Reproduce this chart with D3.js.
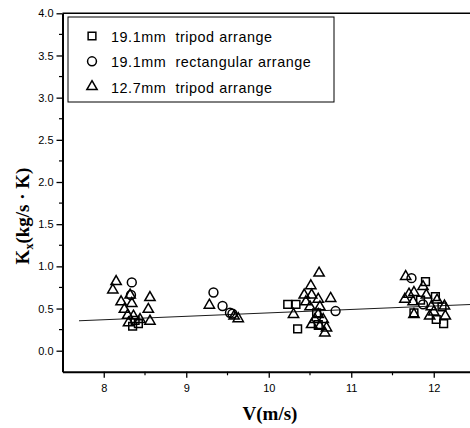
<!DOCTYPE html>
<html>
<head>
<meta charset="utf-8">
<script src="https://cdn.jsdelivr.net/npm/d3@7"></script>
<style>
  body { margin: 0; background: #fff; }
  svg { display: block; }
</style>
</head>
<body>
<svg id="chart" width="470" height="428"></svg>
<script>
// ---- data ----
const seriesNames = ["19.1mm  tripod arrange", "19.1mm  rectangular arrange", "12.7mm  tripod arrange"];
const squareV = [8.35, 8.42, 8.38, 10.23, 10.33, 10.35, 10.60, 10.58, 11.90, 12.02, 11.84, 12.10, 11.76, 12.03, 12.12];
const squareK = [0.29, 0.32, 0.36, 0.55, 0.55, 0.26, 0.31, 0.45, 0.82, 0.64, 0.60, 0.52, 0.45, 0.37, 0.32];
const circleV = [8.34, 8.33, 9.33, 9.44, 9.53, 9.56, 10.81, 11.73, 11.87];
const circleK = [0.81, 0.66, 0.69, 0.53, 0.45, 0.44, 0.47, 0.86, 0.55];
const triV = [8.15, 8.11, 8.21, 8.32, 8.34, 8.25, 8.29, 8.36, 8.44, 8.56, 8.54, 8.56, 8.30,
              9.28, 9.58, 9.63,
              10.61, 10.51, 10.43, 10.52, 10.60, 10.75, 10.50, 10.62, 10.30, 10.60, 10.56, 10.66, 10.52, 10.62, 10.70, 10.68, 10.45,
              11.66, 11.87, 11.76, 11.65, 11.91, 12.04, 11.75, 11.97, 12.13, 11.76, 11.95, 12.14, 12.00, 11.70];
const triK = [0.82, 0.72, 0.58, 0.66, 0.56, 0.49, 0.42, 0.41, 0.37, 0.63, 0.49, 0.35, 0.33,
              0.54, 0.41, 0.38,
              0.92, 0.77, 0.66, 0.66, 0.61, 0.62, 0.52, 0.52, 0.43, 0.43, 0.37, 0.37, 0.31, 0.29, 0.27, 0.21, 0.58,
              0.88, 0.76, 0.69, 0.61, 0.66, 0.60, 0.58, 0.52, 0.53, 0.43, 0.41, 0.41, 0.46, 0.67];
const fitV = [7.7, 12.5];
const fitK = [0.355, 0.55];
const xTicks = [8, 9, 10, 11, 12];
const xMinorTicks = [8.5, 9.5, 10.5, 11.5];
const yTicks = [0.0, 0.5, 1.0, 1.5, 2.0, 2.5, 3.0, 3.5, 4.0];
const yMinorTicks = [0.25, 0.75, 1.25, 1.75, 2.25, 2.75, 3.25, 3.75];

// ---- chart ----
const svg = d3.select("#chart");
const x = d3.scaleLinear().domain([7.5, 12.5]).range([62.5, 475]);
const y = d3.scaleLinear().domain([-0.25, 4.0]).range([371.8, 13.3]);

const tickFont = "'Liberation Sans', Arial, sans-serif";
const titleFont = "'Liberation Serif', 'Times New Roman', serif";

const gx = svg.append("g").attr("transform", `translate(0,${y(-0.25)})`)
  .call(d3.axisBottom(x).tickValues(xTicks).tickFormat(d3.format("d")).tickSize(6).tickPadding(6).tickSizeOuter(0));
gx.selectAll(".tick line").attr("stroke-width", 1.3);
gx.selectAll("text").attr("font-family", tickFont).attr("font-size", 11).attr("fill", "#000");
gx.select(".domain").attr("stroke-width", 2);
gx.selectAll(".minor").data(xMinorTicks).enter().append("line")
  .attr("x1", d => x(d)).attr("x2", d => x(d)).attr("y1", 0).attr("y2", 3.5)
  .attr("stroke", "#000").attr("stroke-width", 1.2);

const gy = svg.append("g").attr("transform", `translate(${x(7.5)},0)`)
  .call(d3.axisLeft(y).tickValues(yTicks).tickFormat(d3.format(".1f")).tickSize(6).tickPadding(3).tickSizeOuter(0));
gy.selectAll(".tick line").attr("stroke-width", 1.3);
gy.selectAll("text").attr("font-family", tickFont).attr("font-size", 11).attr("fill", "#000");
gy.select(".domain").attr("stroke-width", 2);
gy.selectAll(".minor").data(yMinorTicks).enter().append("line")
  .attr("x1", 0).attr("x2", -3.5).attr("y1", d => y(d)).attr("y2", d => y(d))
  .attr("stroke", "#000").attr("stroke-width", 1.2);

// top frame line
svg.append("line").attr("x1", x(7.5)).attr("x2", 470).attr("y1", y(4.0)).attr("y2", y(4.0))
  .attr("stroke", "#000").attr("stroke-width", 1.5);

// fit line
const fitData = fitV.map((v, i) => [v, fitK[i]]);
svg.append("path").datum(fitData)
  .attr("d", d3.line().x(d => x(d[0])).y(d => y(d[1])))
  .attr("fill", "none").attr("stroke", "#000").attr("stroke-width", 0.9);

// markers
const symSq = d3.symbol().type(d3.symbolSquare).size(60);
const symCi = d3.symbol().type(d3.symbolCircle).size(62);
const symTr = d3.symbol().type(d3.symbolTriangle).size(46);
const markStyle = sel => sel.attr("fill", "none").attr("stroke", "#000").attr("stroke-width", 1.5);

svg.append("g").selectAll("path").data(squareV.map((v, i) => [v, squareK[i]])).enter().append("path")
  .attr("d", symSq).attr("transform", d => `translate(${x(d[0])},${y(d[1])})`).call(markStyle);
svg.append("g").selectAll("path").data(circleV.map((v, i) => [v, circleK[i]])).enter().append("path")
  .attr("d", symCi).attr("transform", d => `translate(${x(d[0])},${y(d[1])})`).call(markStyle);
svg.append("g").selectAll("path").data(triV.map((v, i) => [v, triK[i]])).enter().append("path")
  .attr("d", symTr).attr("transform", d => `translate(${x(d[0])},${y(d[1])})`).call(markStyle);

// legend
const lg = svg.append("g");
lg.append("rect").attr("x", 68).attr("y", 17).attr("width", 266).attr("height", 85)
  .attr("fill", "#fff").attr("stroke", "#000").attr("stroke-width", 1);
const legSyms = [symSq, symCi, symTr];
seriesNames.forEach((name, i) => {
  const cy = 36 + i * 25.3;
  lg.append("path").attr("d", legSyms[i]).attr("transform", `translate(92,${cy})`).call(markStyle);
  lg.append("text").attr("x", 111).attr("y", cy + 6)
    .attr("font-family", tickFont).attr("font-size", 14.4).attr("letter-spacing", 0.55).attr("fill", "#000")
    .attr("xml:space", "preserve").style("white-space", "pre")
    .text(name);
});

// axis titles
svg.append("text").attr("x", 270).attr("y", 420).attr("text-anchor", "middle")
  .attr("font-family", titleFont).attr("font-weight", "bold").attr("font-size", 19)
  .text("V(m/s)");

const yt = svg.append("text").attr("transform", "translate(29,216) rotate(-90)")
  .attr("text-anchor", "middle")
  .attr("font-family", titleFont).attr("font-weight", "bold").attr("font-size", 19);
yt.append("tspan").text("K");
yt.append("tspan").attr("font-size", 12).attr("dy", 4).text("x");
yt.append("tspan").attr("dy", -4).text("(kg/s \u00B7 K)");
</script>
</body>
</html>
